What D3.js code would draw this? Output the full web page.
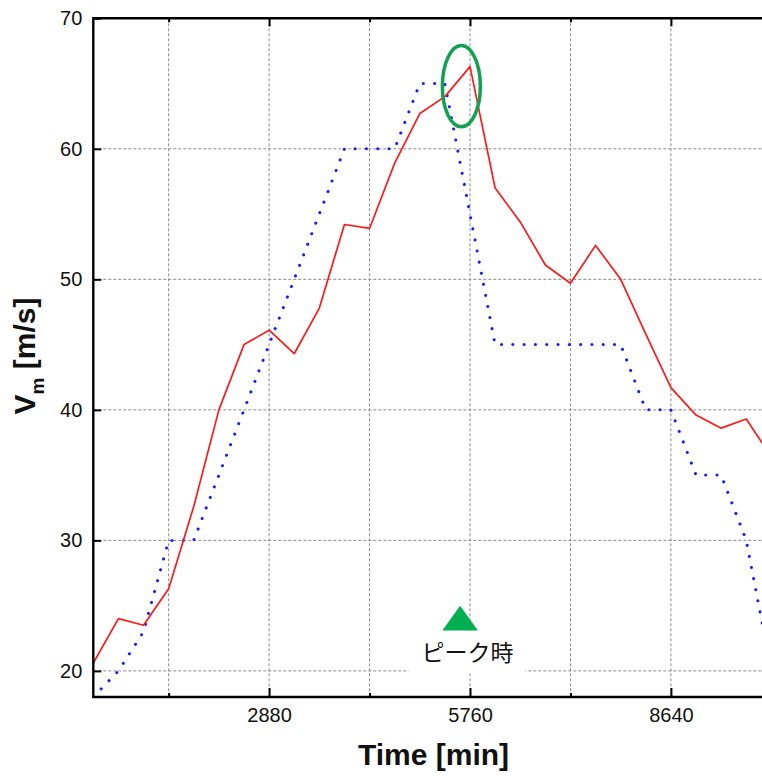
<!DOCTYPE html>
<html>
<head>
<meta charset="utf-8">
<script src="https://cdn.jsdelivr.net/npm/d3@7"></script>
<style>
  body { margin: 0; background: #fff; }
  svg { display: block; font-family: "Liberation Sans", Arial, sans-serif; }
  .grid line { stroke: #8a8a8a; stroke-width: 1; stroke-dasharray: 3,2; }
  .axis path { display: none; }
  .axis line { stroke: #000; stroke-width: 2; }
  .axis text { font-size: 20px; fill: #111; font-family: "Liberation Sans", Arial, sans-serif; }
</style>
</head>
<body>
<svg width="762" height="776"></svg>
<script>
// time [min] every 6 hours
var times = [360, 720, 1080, 1440, 1800, 2160, 2520, 2880, 3240, 3600,
             3960, 4320, 4680, 5040, 5400, 5760, 6120, 6480, 6840, 7200,
             7560, 7920, 8280, 8640, 9000, 9360, 9720, 10080];
// simulated max wind (red line)
var vmModel = [20.6, 24.0, 23.5, 26.3, 32.6, 40.0, 45.0, 46.1, 44.3, 47.8,
               54.2, 53.9, 58.9, 62.7, 64.0, 66.3, 57.0, 54.4, 51.1, 49.7,
               52.6, 50.0, 45.8, 41.7, 39.6, 38.6, 39.3, 36.4];
// best track max wind (blue dotted)
var vmObs = [18, 20, 23, 30, 30, 35, 40, 45, 50, 55,
             60, 60, 60, 65, 65, 55, 45, 45, 45, 45,
             45, 45, 40, 40, 35, 35, 30, 20];

var yTicks = [20, 30, 40, 50, 60, 70];
var xMajorTicks = [2880, 5760, 8640];
var xMinorTicks = [1440, 4320, 7200];

var peakCircle = {time: 5636, vm: 64.8};
var peakMarker = {time: 5618, top: 25.0, base: 23.1, halfWidth: 255};
var peakLabel = {time: 5725, vm: 21.5, text: "ピーク時"};

var svg = d3.select("svg"),
    margin = {top: 18.3, left: 93.3, bottom: 697, right: 763};

var x = d3.scaleLinear().domain([360, 9960]).range([margin.left, margin.right]);
var y = d3.scaleLinear().domain([18, 70]).range([margin.bottom, margin.top]);

svg.append("defs").append("clipPath").attr("id", "clip")
  .append("rect")
    .attr("x", margin.left).attr("y", margin.top)
    .attr("width", margin.right - margin.left)
    .attr("height", margin.bottom - margin.top);

// grid
var grid = svg.append("g").attr("class", "grid");
grid.selectAll(".gx")
  .data(xMajorTicks.concat(xMinorTicks))
  .enter().append("line")
    .attr("x1", function(d) { return x(d); })
    .attr("x2", function(d) { return x(d); })
    .attr("y1", margin.top).attr("y2", margin.bottom);
grid.selectAll(".gy")
  .data(yTicks.slice(0, -1))
  .enter().append("line")
    .attr("x1", margin.left).attr("x2", margin.right)
    .attr("y1", function(d) { return y(d); })
    .attr("y2", function(d) { return y(d); });

// lines
var line = d3.line()
    .x(function(d, i) { return x(times[i]); })
    .y(function(d) { return y(d); });

var plot = svg.append("g").attr("clip-path", "url(#clip)");

plot.append("path")
    .datum(vmObs)
    .attr("fill", "none")
    .attr("stroke", "#1a1aff")
    .attr("stroke-width", 3)
    .attr("stroke-linecap", "round")
    .attr("stroke-dasharray", "0.1,11.2")
    .attr("d", line);

plot.append("path")
    .datum(vmModel)
    .attr("fill", "none")
    .attr("stroke", "#ff1a1a")
    .attr("stroke-width", 1.7)
    .attr("stroke-linejoin", "round")
    .attr("d", line);

// axes (ticks pointing inward)
var xBottom = d3.axisBottom(x).tickValues(xMajorTicks).tickSizeInner(-9).tickSizeOuter(0).tickPadding(11).tickFormat(d3.format("d"));
svg.append("g").attr("class", "axis").attr("transform", "translate(0," + margin.bottom + ")").call(xBottom);
svg.append("g").attr("class", "axis").attr("transform", "translate(0," + margin.bottom + ")")
  .call(d3.axisBottom(x).tickValues(xMinorTicks).tickSizeInner(-4).tickSizeOuter(0).tickFormat(""));

svg.append("g").attr("class", "axis").attr("transform", "translate(0," + margin.top + ")")
  .call(d3.axisTop(x).tickValues(xMajorTicks).tickSizeInner(-8).tickSizeOuter(0).tickFormat(""));
svg.append("g").attr("class", "axis").attr("transform", "translate(0," + margin.top + ")")
  .call(d3.axisTop(x).tickValues(xMinorTicks).tickSizeInner(-4).tickSizeOuter(0).tickFormat(""));

svg.append("g").attr("class", "axis").attr("transform", "translate(" + margin.left + ",0)")
  .call(d3.axisLeft(y).tickValues(yTicks).tickSizeInner(-8).tickSizeOuter(0).tickPadding(11));

// frame
svg.append("path")
    .attr("fill", "none")
    .attr("stroke", "#000")
    .attr("stroke-width", 2.4)
    .attr("d", "M" + (margin.right + 5) + "," + margin.top + "H" + margin.left + "V" + margin.bottom + "H" + (margin.right + 5));

// axis titles
var ylab = svg.append("text")
    .attr("transform", "translate(35,356) rotate(-90)")
    .attr("text-anchor", "middle")
    .attr("font-size", 30)
    .attr("font-weight", "bold")
    .attr("fill", "#111");
ylab.append("tspan").text("V");
ylab.append("tspan").attr("font-size", 19).attr("dy", 9).text("m");
ylab.append("tspan").attr("dy", -9).text(" [m/s]");

svg.append("text")
    .attr("x", 433.5).attr("y", 765)
    .attr("text-anchor", "middle")
    .attr("font-size", 30)
    .attr("font-weight", "bold")
    .attr("fill", "#111")
    .text("Time [min]");

// peak annotation
svg.append("rect")
    .attr("x", x(peakLabel.time) - 59).attr("y", y(peakLabel.vm) - 20)
    .attr("width", 117).attr("height", 41)
    .attr("fill", "#fff");

svg.append("path")
    .attr("fill", "#00b050")
    .attr("d", "M" + x(peakMarker.time) + "," + y(peakMarker.top) +
               "L" + x(peakMarker.time + peakMarker.halfWidth) + "," + y(peakMarker.base) +
               "L" + x(peakMarker.time - peakMarker.halfWidth) + "," + y(peakMarker.base) + "Z");

svg.append("text")
    .attr("x", x(peakLabel.time)).attr("y", y(peakLabel.vm))
    .attr("text-anchor", "middle")
    .attr("dominant-baseline", "central")
    .attr("font-family", "'Noto Sans CJK JP', sans-serif")
    .attr("font-size", 23)
    .attr("fill", "#111")
    .text(peakLabel.text);

svg.append("ellipse")
    .attr("cx", x(peakCircle.time)).attr("cy", y(peakCircle.vm))
    .attr("rx", 19).attr("ry", 40.7)
    .attr("fill", "none")
    .attr("stroke", "#13a04f")
    .attr("stroke-width", 3.5);
</script>
</body>
</html>
